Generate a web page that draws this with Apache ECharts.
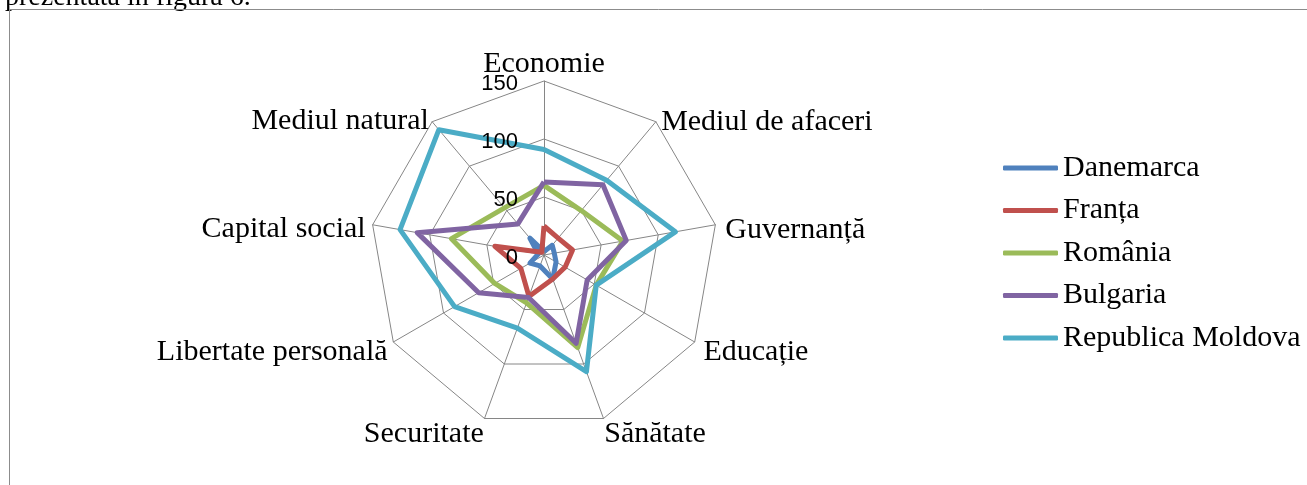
<!DOCTYPE html>
<html>
<head>
<meta charset="utf-8">
<script src="https://cdn.jsdelivr.net/npm/echarts@6/dist/echarts.min.js"></script>
<style>
  html, body { margin: 0; padding: 0; background: #fff; }
  #radarChart { width: 1307px; height: 485px; }
</style>
</head>
<body>
<div id="radarChart"></div>
<script>
// indicators in the order they go round the chart (clockwise from the top)
var indicators = ['Economie', 'Mediul de afaceri', 'Guvernanță', 'Educație', 'Sănătate',
                  'Securitate', 'Libertate personală', 'Capital social', 'Mediul natural'];
var seriesNames = ['Danemarca', 'Franța', 'România', 'Bulgaria', 'Republica Moldova'];

var danemarca = [3, 11, 9, 12, 22, 10, 14, 5, 19];
var franta = [25, 19, 25, 21, 22, 38, 23, 43, 3];
var romania = [60, 50, 69, 52, 85, 44, 49, 81, 53];
var bulgaria = [63, 79, 72, 43, 81, 39, 65, 111, 35];
var moldova = [91, 84, 115, 52, 107, 67, 89, 126, 141];

var axisMax = 150;
var colors = ['#4F81BD', '#C0504D', '#9BBB59', '#8064A2', '#4BACC6'];

// name nudges so they sit like the excel ones (same order as indicators):
// [push down, push right (left-aligned names), push left (right-aligned names)]
var nameNudge = [
    [0, 0, 0], [2, 0, 0], [6, 0, 0], [9, 0, 0], [14, 0, 0],
    [14, 0, 0], [9, 0, 0], [5, 0, 0], [1, 0, 0]
];
var namePadX = [[0, 0], [4, 0], [8, 0], [7, 0], [0, 0], [0, 0], [0, 4], [0, 5], [0, 2]];

// echarts radar runs counter-clockwise, so feed it the reversed order (keeping Economie first)
var order = [0];
for (var i = indicators.length - 1; i > 0; i--) order.push(i);
function reorder(arr) {
    return order.map(function (k) { return arr[k]; });
}

var allValues = [danemarca, franta, romania, bulgaria, moldova];
var nudges = reorder(nameNudge);
var padsX = reorder(namePadX);

var radarBase = {
    center: [544, 255],
    radius: 174,
    shape: 'polygon',
    splitNumber: 3,
    nameGap: 2,
    splitArea: { show: false },
    axisTick: { show: false }
};

var chart = echarts.init(document.getElementById('radarChart'));
var option = {
    animation: false,
    color: colors,
    textStyle: { fontFamily: 'Liberation Serif' },
    graphic: [
        {
            type: 'text', left: 5, top: -16,
            style: { text: 'prezentată în figura 6.', font: '28px "Liberation Serif"', fill: '#000' }
        },
        {
            type: 'polyline',
            shape: { points: [[9.5, 485], [9.5, 9.5], [1307, 9.5]] },
            style: { stroke: '#8c8c8c', lineWidth: 1, fill: null }
        }
    ],
    legend: {
        orient: 'vertical',
        left: 998,
        top: 148,
        itemWidth: 55,
        itemHeight: 5,
        itemGap: 12.5,
        icon: 'roundRect',
        data: seriesNames,
        textStyle: {
            fontFamily: 'Liberation Serif',
            fontSize: 30,
            lineHeight: 30,
            color: '#000'
        }
    },
    radar: [
        // grid + indicator names
        Object.assign({}, radarBase, {
            axisName: {
                color: '#000',
                fontFamily: 'Liberation Serif',
                fontSize: 30
            },
            axisLine: { lineStyle: { color: '#868686', width: 1 } },
            splitLine: { lineStyle: { color: '#868686', width: 1 } },
            axisLabel: { show: false },
            indicator: reorder(indicators).map(function (name, idx) {
                var ind = { name: name, min: 0, max: axisMax };
                if (idx > 0) {
                    // top-aligned with a line height of 2*d puts the text d px below centre
                    ind.nameTextStyle = {
                        verticalAlign: 'top',
                        lineHeight: Math.max(2, nudges[idx][0] * 2),
                        padding: [0, padsX[idx][1], 0, padsX[idx][0]]
                    };
                }
                return ind;
            })
        }),
        // second copy only for the tick values, drawn above the lines
        Object.assign({}, radarBase, {
            z: 5,
            axisName: { show: false },
            axisLine: { show: false },
            splitLine: { show: false },
            axisLabel: {
                show: true,
                margin: 26,
                color: '#000',
                fontFamily: 'Liberation Sans',
                fontSize: 22,
                verticalAlign: 'top',
                lineHeight: 5
            },
            indicator: reorder(indicators).map(function (name, idx) {
                var ind = { name: name, min: 0, max: axisMax };
                if (idx > 0) ind.axisLabel = { show: false };
                return ind;
            })
        })
    ],
    series: [{
        type: 'radar',
        radarIndex: 0,
        symbol: 'none',
        lineStyle: { width: 5 },
        data: seriesNames.map(function (name, idx) {
            return {
                name: name,
                value: reorder(allValues[idx]),
                lineStyle: { color: colors[idx], width: 5 },
                itemStyle: { color: colors[idx] }
            };
        })
    }]
};
chart.setOption(option);
</script>
</body>
</html>
